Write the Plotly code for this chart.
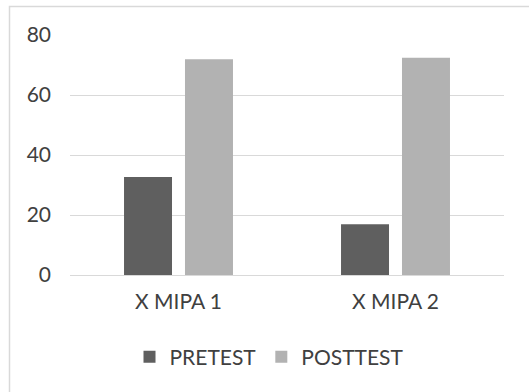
import plotly.graph_objects as go

categories = ["X MIPA 1", "X MIPA 2"]
pretest = [32.7, 16.9]
posttest = [71.9, 72.4]
y_ticks = [0, 20, 40, 60, 80]

W, H = 529, 392
L, R, T, B = 70, 25, 35, 117
pw, ph = W - L - R, H - T - B

font_family = "Lato, 'Open Sans', sans-serif"
text_color = "#404040"
grid_color = "#d9d9d9"
fs = 21

fig = go.Figure()
fig.add_trace(go.Bar(name="PRETEST", x=categories, y=pretest,
                     marker=dict(color="#5f5f5f", line=dict(width=0))))
fig.add_trace(go.Bar(name="POSTTEST", x=categories, y=posttest,
                     marker=dict(color="#b2b2b2", line=dict(width=0))))

def px_to_paper_x(px):
    return (px - L) / pw

def px_to_paper_y(py):
    return (H - B - py) / ph

fig.update_layout(
    width=W, height=H,
    margin=dict(l=L, r=R, t=T, b=B, pad=0),
    paper_bgcolor="white", plot_bgcolor="white",
    barmode="group", bargap=0.438, bargroupgap=0.213,
    font=dict(family=font_family, size=fs, color=text_color),
    xaxis=dict(showgrid=False, showline=False, zeroline=False, ticks="",
               ticklabelstandoff=12, tickfont=dict(size=fs, color=text_color)),
    yaxis=dict(range=[0, 80], tickvals=y_ticks, showgrid=True, gridcolor=grid_color,
               gridwidth=1.3, zeroline=True, zerolinecolor=grid_color, zerolinewidth=1.3,
               showline=False, ticks="", ticklabelstandoff=18,
               tickfont=dict(size=fs, color=text_color)),
    legend=dict(orientation="h", x=px_to_paper_x(269), xanchor="center", y=px_to_paper_y(357),
                yanchor="middle", font=dict(size=fs, color=text_color),
                itemwidth=30, bgcolor="rgba(0,0,0,0)"),
    shapes=[dict(type="rect", xref="paper", yref="paper",
                 x0=px_to_paper_x(9.5), x1=px_to_paper_x(560),
                 y0=px_to_paper_y(420), y1=px_to_paper_y(6.5),
                 line=dict(color=grid_color, width=1.5), fillcolor="rgba(0,0,0,0)",
                 layer="below")],
)

fig.write_html("out.html", config={"displayModeBar": False},
               post_script="document.body.style.margin='0';document.body.style.overflow='hidden';")
